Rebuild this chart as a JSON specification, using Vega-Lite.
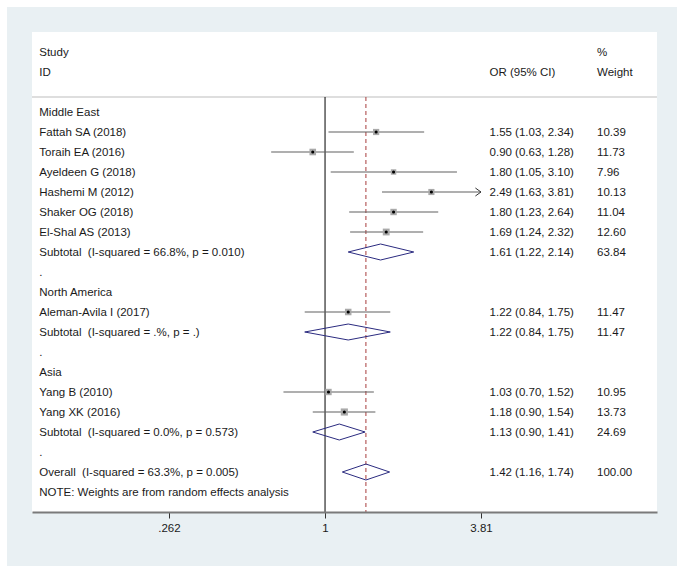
{
  "$schema": "https://vega.github.io/schema/vega-lite/v6.json",
  "width": 625,
  "height": 480,
  "autosize": {"type": "none"},
  "padding": {"left": 32, "top": 32, "right": 26, "bottom": 61},
  "background": "white",
  "config": {
    "view": {"stroke": null, "fill": null},
    "text": {"font": "Liberation Sans", "fontSize": 11.5, "color": "#1a1a1a", "dy": 1}
  },
  "datasets": {
    "rows": [
      {"row": 1, "type": "header", "label": "Study", "ci": "", "wt": "%"},
      {"row": 2, "type": "header", "label": "ID", "ci": "OR (95% CI)", "wt": "Weight"},
      {"row": 4, "type": "group", "label": "Middle East", "ci": "", "wt": ""},
      {"row": 5, "type": "study", "label": "Fattah SA (2018)", "est": 1.55, "lo": 1.03, "hi": 2.34, "weight": 10.39, "ci": "1.55 (1.03, 2.34)", "wt": "10.39"},
      {"row": 6, "type": "study", "label": "Toraih EA (2016)", "est": 0.90, "lo": 0.63, "hi": 1.28, "weight": 11.73, "ci": "0.90 (0.63, 1.28)", "wt": "11.73"},
      {"row": 7, "type": "study", "label": "Ayeldeen G (2018)", "est": 1.80, "lo": 1.05, "hi": 3.10, "weight": 7.96, "ci": "1.80 (1.05, 3.10)", "wt": "7.96"},
      {"row": 8, "type": "study", "label": "Hashemi M (2012)", "est": 2.49, "lo": 1.63, "hi": 3.81, "weight": 10.13, "ci": "2.49 (1.63, 3.81)", "wt": "10.13"},
      {"row": 9, "type": "study", "label": "Shaker OG (2018)", "est": 1.80, "lo": 1.23, "hi": 2.64, "weight": 11.04, "ci": "1.80 (1.23, 2.64)", "wt": "11.04"},
      {"row": 10, "type": "study", "label": "El-Shal AS (2013)", "est": 1.69, "lo": 1.24, "hi": 2.32, "weight": 12.60, "ci": "1.69 (1.24, 2.32)", "wt": "12.60"},
      {"row": 11, "type": "subtotal", "label": "Subtotal\u00a0\u00a0(I-squared = 66.8%, p = 0.010)", "est": 1.61, "lo": 1.22, "hi": 2.14, "weight": 63.84, "ci": "1.61 (1.22, 2.14)", "wt": "63.84"},
      {"row": 12, "type": "blank", "label": ".", "ci": "", "wt": ""},
      {"row": 13, "type": "group", "label": "North America", "ci": "", "wt": ""},
      {"row": 14, "type": "study", "label": "Aleman-Avila I (2017)", "est": 1.22, "lo": 0.84, "hi": 1.75, "weight": 11.47, "ci": "1.22 (0.84, 1.75)", "wt": "11.47"},
      {"row": 15, "type": "subtotal", "label": "Subtotal\u00a0\u00a0(I-squared = .%, p = .)", "est": 1.22, "lo": 0.84, "hi": 1.75, "weight": 11.47, "ci": "1.22 (0.84, 1.75)", "wt": "11.47"},
      {"row": 16, "type": "blank", "label": ".", "ci": "", "wt": ""},
      {"row": 17, "type": "group", "label": "Asia", "ci": "", "wt": ""},
      {"row": 18, "type": "study", "label": "Yang B (2010)", "est": 1.03, "lo": 0.70, "hi": 1.52, "weight": 10.95, "ci": "1.03 (0.70, 1.52)", "wt": "10.95"},
      {"row": 19, "type": "study", "label": "Yang XK (2016)", "est": 1.18, "lo": 0.90, "hi": 1.54, "weight": 13.73, "ci": "1.18 (0.90, 1.54)", "wt": "13.73"},
      {"row": 20, "type": "subtotal", "label": "Subtotal\u00a0\u00a0(I-squared = 0.0%, p = 0.573)", "est": 1.13, "lo": 0.90, "hi": 1.41, "weight": 24.69, "ci": "1.13 (0.90, 1.41)", "wt": "24.69"},
      {"row": 21, "type": "blank", "label": ".", "ci": "", "wt": ""},
      {"row": 22, "type": "overall", "label": "Overall\u00a0\u00a0(I-squared = 63.3%, p = 0.005)", "est": 1.42, "lo": 1.16, "hi": 1.74, "weight": 100.0, "ci": "1.42 (1.16, 1.74)", "wt": "100.00"},
      {"row": 23, "type": "note", "label": "NOTE: Weights are from random effects analysis", "ci": "", "wt": ""}
    ]
  },
  "data": {"name": "rows"},
  "encoding": {
    "y": {"field": "row", "type": "quantitative", "scale": {"domain": [0, 24], "reverse": true, "nice": false, "zero": false}, "axis": null}
  },
  "layer": [
    {
      "transform": [{"filter": "datum.row == 1"}],
      "mark": {"type": "rect", "fill": "#e9f0f3", "clip": false},
      "encoding": {
        "x": {"datum": 0.06539, "type": "quantitative", "scale": {"type": "log", "domain": [0.081, 17.24], "nice": false}, "axis": {"values": [0.262, 1, 3.81], "labelExpr": "replace(toString(datum.value), /^0/, '')", "title": null, "grid": false, "domainColor": "#7a7a7a", "domainWidth": 2, "tickColor": "#333333", "tickSize": 6, "tickWidth": 1, "labelFont": "Liberation Sans", "labelFontSize": 11.5, "labelColor": "#1a1a1a", "labelPadding": 4, "zindex": 2}},
        "x2": {"datum": 20.47},
        "y": {"datum": -1.25, "type": "quantitative"},
        "y2": {"datum": 26.7}
      }
    },
    {
      "transform": [{"filter": "datum.row == 1"}],
      "mark": {"type": "rect", "fill": "white"},
      "encoding": {
        "x": {"datum": 0.081, "type": "quantitative"},
        "x2": {"datum": 17.24},
        "y": {"datum": 0, "type": "quantitative"},
        "y2": {"datum": 24}
      }
    },
    {
      "transform": [{"filter": "datum.row == 1"}],
      "mark": {"type": "rule", "color": "#d3d3d3", "strokeWidth": 1.5},
      "encoding": {"y": {"datum": 3.25, "type": "quantitative"}}
    },
    {
      "transform": [{"filter": "datum.row == 1"}],
      "mark": {"type": "rule", "color": "#000000", "strokeWidth": 1},
      "encoding": {
        "x": {"datum": 1, "type": "quantitative"},
        "y": {"datum": 3.25, "type": "quantitative"},
        "y2": {"datum": 24}
      }
    },
    {
      "transform": [{"filter": "datum.type == 'overall'"}],
      "mark": {"type": "rule", "color": "#a83c3c", "strokeWidth": 1, "strokeDash": [4, 3]},
      "encoding": {
        "x": {"field": "est", "type": "quantitative"},
        "y": {"datum": 3.25, "type": "quantitative"},
        "y2": {"datum": 24}
      }
    },
    {
      "transform": [{"filter": "datum.type == 'study'"}],
      "mark": {"type": "rule", "color": "#606060", "strokeWidth": 1.2},
      "encoding": {
        "x": {"field": "lo", "type": "quantitative"},
        "x2": {"field": "hi"}
      }
    },
    {
      "transform": [{"filter": "datum.type == 'study'"}],
      "mark": {"type": "point", "shape": "square", "filled": true, "color": "#a9a9a9", "opacity": 1},
      "encoding": {
        "x": {"field": "est", "type": "quantitative"},
        "size": {"field": "weight", "type": "quantitative", "scale": {"domain": [0, 14], "range": [0, 52]}, "legend": null}
      }
    },
    {
      "transform": [{"filter": "datum.type == 'study'"}],
      "mark": {"type": "point", "shape": "circle", "filled": true, "color": "#000000", "size": 10, "opacity": 1},
      "encoding": {"x": {"field": "est", "type": "quantitative"}}
    },
    {
      "transform": [{"filter": "datum.type == 'study' && datum.hi >= 3.81"}],
      "mark": {"type": "point", "shape": "M-1.4,-1L0,0L-1.4,1", "filled": false, "stroke": "#333333", "strokeWidth": 1, "size": 64, "opacity": 1},
      "encoding": {"x": {"field": "hi", "type": "quantitative"}}
    },
    {
      "transform": [{"filter": "datum.type == 'subtotal' || datum.type == 'overall'"}],
      "mark": {"type": "rule", "color": "#2b2b80", "strokeWidth": 1, "y2Offset": -8},
      "encoding": {"x": {"field": "lo", "type": "quantitative"}, "x2": {"field": "est"}, "y2": {"field": "row"}}
    },
    {
      "transform": [{"filter": "datum.type == 'subtotal' || datum.type == 'overall'"}],
      "mark": {"type": "rule", "color": "#2b2b80", "strokeWidth": 1, "yOffset": -8},
      "encoding": {"x": {"field": "est", "type": "quantitative"}, "x2": {"field": "hi"}, "y2": {"field": "row"}}
    },
    {
      "transform": [{"filter": "datum.type == 'subtotal' || datum.type == 'overall'"}],
      "mark": {"type": "rule", "color": "#2b2b80", "strokeWidth": 1, "y2Offset": 8},
      "encoding": {"x": {"field": "hi", "type": "quantitative"}, "x2": {"field": "est"}, "y2": {"field": "row"}}
    },
    {
      "transform": [{"filter": "datum.type == 'subtotal' || datum.type == 'overall'"}],
      "mark": {"type": "rule", "color": "#2b2b80", "strokeWidth": 1, "yOffset": 8},
      "encoding": {"x": {"field": "est", "type": "quantitative"}, "x2": {"field": "lo"}, "y2": {"field": "row"}}
    },
    {
      "mark": {"type": "text", "align": "left", "baseline": "middle"},
      "encoding": {
        "x": {"datum": 0.0862, "type": "quantitative"},
        "text": {"field": "label"}
      }
    },
    {
      "mark": {"type": "text", "align": "left", "baseline": "middle"},
      "encoding": {
        "x": {"datum": 4.10, "type": "quantitative"},
        "text": {"field": "ci"}
      }
    },
    {
      "mark": {"type": "text", "align": "left", "baseline": "middle"},
      "encoding": {
        "x": {"datum": 10.31, "type": "quantitative"},
        "text": {"field": "wt"}
      }
    }
  ]
}
